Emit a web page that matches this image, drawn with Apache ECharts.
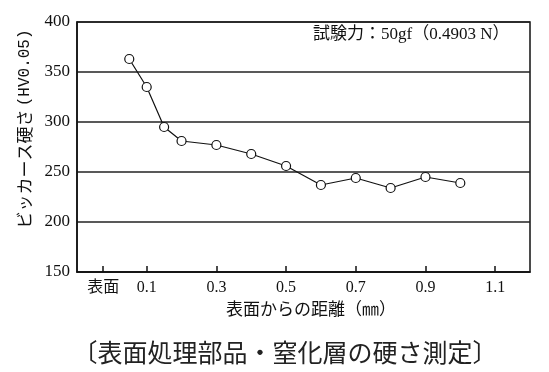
<!DOCTYPE html>
<html><head><meta charset="utf-8">
<script src="https://cdn.jsdelivr.net/npm/echarts@6/dist/echarts.min.js"></script>
<style>html,body{margin:0;padding:0;background:#fff}#c{width:549px;height:372px}</style>
</head><body><div id="c"></div>
<script>
const depths = [0.05, 0.1, 0.15, 0.2, 0.3, 0.4, 0.5, 0.6, 0.7, 0.8, 0.9, 1.0];
const hardness = [363, 335, 295, 281, 277, 268, 256, 237, 244, 234, 245, 239];
const xTickValues = [-0.025, 0.1, 0.3, 0.5, 0.7, 0.9, 1.1];
const xTickLabels = ['表面', '0.1', '0.3', '0.5', '0.7', '0.9', '1.1'];
const yTicks = [150, 200, 250, 300, 350, 400];
const yTitleMain = 'ビッカース硬さ';
const yTitleUnit = '(HV0.05)';
const xTitle = '表面からの距離（㎜）';
const caption = '〔表面処理部品・窒化層の硬さ測定〕';
const note = '試験力：50gf（0.4903 N）';

const FONT = "'Liberation Serif', 'Noto Sans CJK JP', serif";
const chart = echarts.init(document.getElementById('c'));
chart.setOption({
  animation: false,
  backgroundColor: '#fff',
  grid: { left: 77, top: 22, right: 19, bottom: 100, show: true, borderColor: '#111', borderWidth: 1.5 },
  xAxis: {
    type: 'value', min: -0.1, max: 1.2,
    axisLine: { show: true, onZero: false, lineStyle: { color: '#111', width: 1.5 } },
    splitLine: { show: false },
    axisTick: { show: false },
    axisLabel: {
      customValues: xTickValues, margin: 8, color: '#111', fontSize: 16, fontFamily: FONT,
      formatter: function (v) { const i = xTickValues.findIndex(t => Math.abs(t - v) < 1e-6); return i >= 0 ? xTickLabels[i] : ''; }
    }
  },
  yAxis: {
    type: 'value', min: yTicks[0], max: yTicks[yTicks.length - 1], interval: 50,
    axisLine: { show: true, onZero: false, lineStyle: { color: '#111', width: 1.5 } },
    axisTick: { show: false },
    splitLine: { show: true, lineStyle: { color: '#222', width: 1.5 } },
    axisLabel: { margin: 7, color: '#111', fontSize: 17, fontFamily: FONT }
  },
  series: [{
    type: 'line',
    data: depths.map((d, i) => [d, hardness[i]]),
    symbol: 'circle', symbolSize: 9,
    itemStyle: { color: '#fff', borderColor: '#111', borderWidth: 1.2 },
    lineStyle: { color: '#111', width: 1.2 },
    z: 5,
    markLine: {
      silent: true, symbol: ['none', 'none'], label: { show: false },
      lineStyle: { color: '#111', width: 1.5, type: 'solid' },
      data: xTickValues.map(v => [{ coord: [v, yTicks[0]] }, { coord: [v, yTicks[0] + 6] }])
    }
  }],
  graphic: [
    { type: 'text', left: 313, top: 26, style: { text: note, font: "17px " + FONT, fill: '#111' } },
    { type: 'text', x: 25, y: 129, rotation: Math.PI / 2, style: {
        text: '{a|' + yTitleMain + '} {b|' + yTitleUnit + '}', fill: '#111', align: 'center', verticalAlign: 'middle',
        rich: { a: { fontSize: 17, fontFamily: "'Noto Sans CJK JP', sans-serif", fill: '#111' },
                b: { fontSize: 16, fontFamily: "'Liberation Mono', monospace", fill: '#111' } } } },
    { type: 'text', x: 311, y: 311, style: { text: xTitle, font: "17px " + FONT, fill: '#111', align: 'center', verticalAlign: 'middle' } },
    { type: 'text', x: 285, y: 352, style: { text: caption, font: "25px 'Noto Sans CJK JP', sans-serif", fill: '#222', align: 'center', verticalAlign: 'middle' } }
  ]
});
</script></body></html>
